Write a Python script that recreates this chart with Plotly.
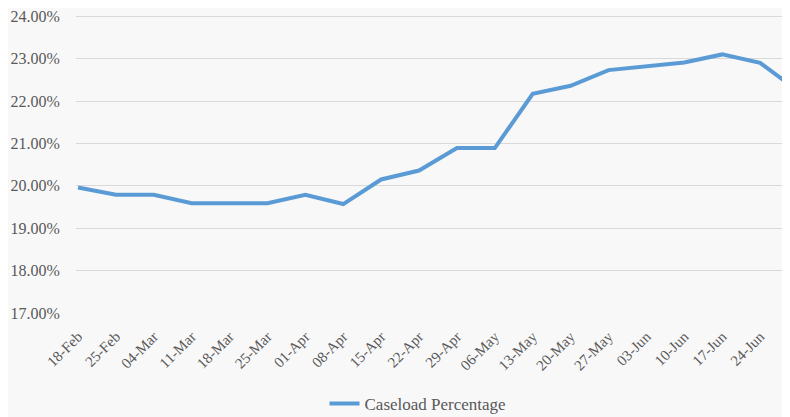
import plotly.graph_objects as go

categories = ["18-Feb", "25-Feb", "04-Mar", "11-Mar", "18-Mar", "25-Mar", "01-Apr",
              "08-Apr", "15-Apr", "22-Apr", "29-Apr", "06-May", "13-May", "20-May",
              "27-May", "03-Jun", "10-Jun", "17-Jun", "24-Jun", "01-Jul"]
caseload_pct = [19.96, 19.79, 19.79, 19.59, 19.59, 19.59, 19.79,
                19.57, 20.15, 20.36, 20.89, 20.89, 22.17, 22.36,
                22.73, 22.82, 22.91, 23.10, 22.90, 22.24]
x_tick_labels = categories[:19]
y_ticks = [17, 18, 19, 20, 21, 22, 23, 24]
y_tick_labels = ["17.00%", "18.00%", "19.00%", "20.00%", "21.00%", "22.00%", "23.00%", "24.00%"]

font_family = "'Liberation Serif', Tinos, 'Times New Roman', serif"
text_color = "#595959"

fig = go.Figure()
fig.add_trace(go.Scatter(
    x=categories, y=caseload_pct, mode="lines",
    name="Caseload Percentage",
    line=dict(color="#5B9BD5", width=4),
))

fig.update_layout(
    width=782, height=409,
    margin=dict(l=68, r=0, t=5, b=104),
    paper_bgcolor="#F8F8F8", plot_bgcolor="#F8F8F8",
    font=dict(family=font_family, size=15, color=text_color),
    showlegend=True,
    legend=dict(orientation="h", xanchor="center", x=0.479,
                yref="container", yanchor="middle", y=0.032,
                font=dict(family=font_family, size=17, color=text_color),
                bgcolor="rgba(0,0,0,0)"),
)
fig.update_xaxes(
    type="category", range=[-0.053, 18.79],
    tickmode="array", tickvals=x_tick_labels, ticktext=x_tick_labels,
    tickangle=-45, showgrid=False, zeroline=False, showline=False,
    ticks="outside", ticklen=8, tickcolor="rgba(0,0,0,0)",
    tickfont=dict(family=font_family, size=15, color=text_color),
)
fig.update_yaxes(
    range=[17, 24.03], tickmode="array", tickvals=y_ticks, ticktext=y_tick_labels,
    showgrid=True, gridcolor="#D9D9D9", gridwidth=1.3,
    zeroline=False, showline=False, ticklabeloverflow="allow",
    ticks="outside", ticklen=12, tickcolor="rgba(0,0,0,0)",
    tickfont=dict(family=font_family, size=16, color=text_color),
)

fig.write_html("out.html")
